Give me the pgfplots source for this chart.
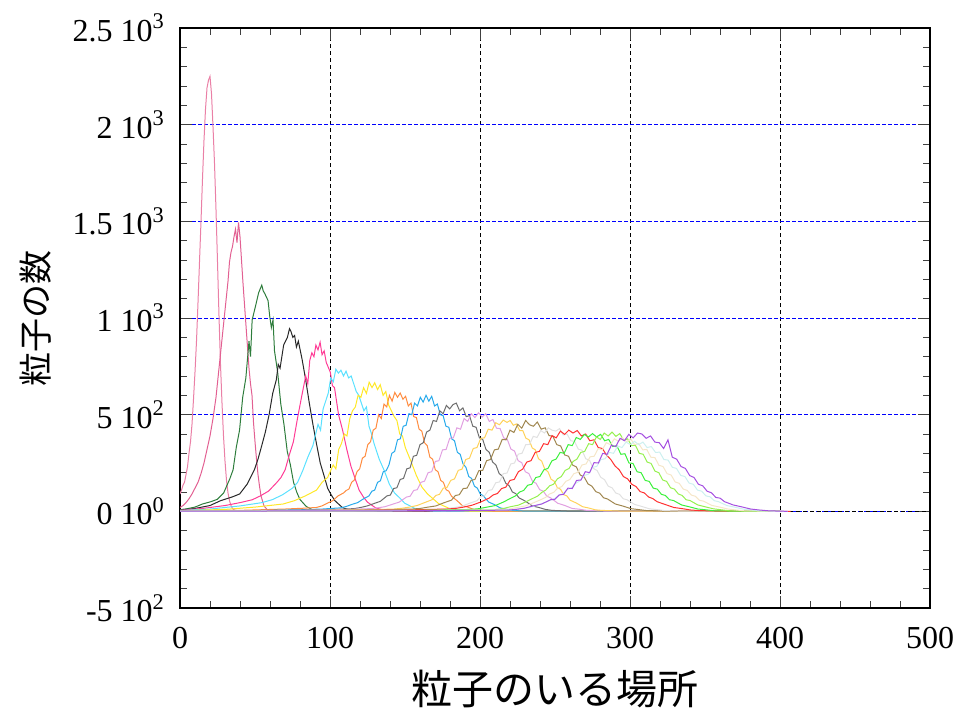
\documentclass[border=0pt]{standalone}
\usepackage{fontspec}
\setmainfont{Liberation Serif}
\newfontfamily\jp{Noto Sans CJK JP}
\usepackage{pgfplots}
\pgfplotsset{compat=1.18}
\definecolor{c1}{RGB}{234,128,166}
\definecolor{c2}{RGB}{226,96,146}
\definecolor{c3}{RGB}{46,125,60}
\definecolor{c4}{RGB}{40,40,40}
\definecolor{c5}{RGB}{255,60,150}
\definecolor{c6}{RGB}{90,225,255}
\definecolor{c7}{RGB}{255,232,40}
\definecolor{c8}{RGB}{255,140,64}
\definecolor{c9}{RGB}{40,170,235}
\definecolor{c10}{RGB}{110,110,110}
\definecolor{c11}{RGB}{225,160,225}
\definecolor{c12}{RGB}{255,210,90}
\definecolor{c13}{RGB}{160,135,80}
\definecolor{c14}{RGB}{225,225,225}
\definecolor{c15}{RGB}{255,50,50}
\definecolor{c16}{RGB}{60,240,60}
\definecolor{c17}{RGB}{150,240,80}
\definecolor{c18}{RGB}{245,230,200}
\definecolor{c19}{RGB}{205,240,240}
\definecolor{c20}{RGB}{165,80,225}
\begin{document}
\begin{tikzpicture}
\path[use as bounding box] (0,0) rectangle (478pt,354pt);
\begin{axis}[
  at={(90pt,50pt)}, anchor=south west,
  scale only axis, width=375pt, height=290pt,
  xmin=0, xmax=500, ymin=-500, ymax=2500,
  xtick={0,100,200,300,400,500},
  xticklabels={0,100,200,300,400,500},
  ytick={-500,0,500,1000,1500,2000,2500},
  yticklabels={-5 10\textsuperscript{2},0 10\textsuperscript{0},5 10\textsuperscript{2},1 10\textsuperscript{3},1.5 10\textsuperscript{3},2 10\textsuperscript{3},2.5 10\textsuperscript{3}},
  minor x tick num=4, minor y tick num=4,
  tick align=inside, major tick length=6pt, minor tick length=3.5pt,
  tick style={black!75, line width=0.5pt},
  xmajorgrids, ymajorgrids,
  major x grid style={black, dash pattern=on 2pt off 1.5pt, line width=0.4pt},
  major y grid style={blue, dash pattern=on 2pt off 1pt, line width=0.5pt},
  axis line style={black, line width=0.6pt},
  ticklabel style={font=\fontsize{16}{18}\selectfont},
  xticklabel style={yshift=-6pt},
  yticklabel style={xshift=-4pt},
  xlabel={\jp 粒子のいる場所},
  xlabel style={font=\fontsize{20.5}{24}\selectfont, at={(axis description cs:0.5,-0.14)}, anchor=center},
  ylabel={\jp 粒子の数},
  ylabel style={font=\fontsize{17}{20}\selectfont, at={(axis description cs:-0.193,0.5)}, anchor=center},
  every axis plot/.append style={line width=0.5pt},
]
\addplot[black, dash pattern=on 2pt off 1.5pt, line width=0.4pt] coordinates {(0,0)(500,0)};
% 1
\addplot[c1] coordinates {(0,90)(1,110)(2,135)(3,150)(4,190)(5,230)(6,300)(7,360)(8,450)(9,580)(10,720)(11,880)(12,1080)(13,1290)(14,1500)(15,1720)(16,1920)(17,2080)(18,2190)(19,2230)(20,2250)(21,2160)(22,1990)(23,1800)(24,1560)(25,1290)(26,1010)(27,760)(28,560)(29,390)(30,260)(31,160)(32,95)(33,55)(34,30)(35,15)(36,8)(38,3)(40,1)(60,0)(400,0)};
% 2
\addplot[c2] coordinates {(0,20)(2,30)(4,45)(6,65)(8,90)(10,120)(12,150)(14,195)(16,250)(18,320)(20,390)(22,480)(24,590)(26,740)(28,890)(30,1040)(32,1190)(33,1290)(34,1340)(35,1370)(36,1420)(37,1460)(38,1390)(39,1495)(40,1420)(41,1300)(42,1180)(43,1070)(44,960)(45,850)(46,740)(47,660)(48,600)(49,460)(50,360)(51,270)(52,190)(53,130)(54,80)(56,28)(58,10)(60,3)(65,1)(400,0)};
% 3
\addplot[c3] coordinates {(0,8)(5,14)(10,22)(15,38)(20.6,50)(24.8,62)(29.1,95)(33.3,170)(35.4,215)(37.5,330)(39.7,420)(41.8,590)(43.9,690)(46.0,880)(47.0,800)(48.1,990)(50.3,1060)(52.4,1130)(54.5,1170)(55.5,1140)(56.6,1125)(58.7,1090)(59.8,1010)(60.9,950)(62.0,990)(63.0,830)(65.1,720)(67.2,555)(69.3,450)(71.5,310)(73.6,240)(75.7,150)(77.8,100)(79.9,62)(84.2,25)(88.4,8)(95,2)(400,0)};
% 4
\addplot[c4] coordinates {(0,5)(10,15)(20,30)(27,55)(35.0,75)(39.8,90)(44.7,140)(49.6,215)(52.0,270)(54.5,340)(56.9,410)(59.4,500)(61.8,610)(64.2,680)(65.5,760)(66.7,740)(69.1,860)(71.6,900)(73.0,945)(74,930)(75.2,900)(76.4,910)(77.6,850)(78.9,880)(81.3,790)(83.8,680)(86.2,560)(88.6,450)(91.1,345)(93.5,250)(96.0,185)(98.4,120)(100.8,85)(103.3,55)(108.2,20)(113.0,6)(120,2)(400,0)};
% 5
\addplot[c5] coordinates {(0,5)(15,15)(30,30)(40,45)(48.2,60)(53.6,80)(59.1,105)(64.6,150)(67.3,175)(70.1,215)(72.8,290)(75.6,360)(78.3,480)(81.0,590)(83.8,700)(85.2,660)(86.5,780)(87.9,820)(89.3,800)(90.6,860)(92,835)(93.4,875)(94.7,810)(96.1,830)(97.5,770)(100.2,720)(101.6,650)(103.0,640)(105.7,500)(108.4,420)(111.2,320)(113.9,235)(116.7,170)(119.4,110)(122.2,75)(124.9,48)(130.4,18)(135.8,6)(145,2)(400,0)};
% 6
\addplot[c6] coordinates {(0,4)(20,12)(40,28)(54.6,45)(61.4,60)(68.2,85)(75.0,120)(78.4,150)(81.8,210)(85.2,280)(88.6,340)(92.0,450)(93.7,420)(95.4,530)(97.1,570)(98.8,610)(100.5,690)(102.2,670)(103.9,735)(105.6,715)(107.3,730)(109,700)(110.7,725)(112.4,690)(114.1,700)(115.8,660)(117.5,620)(119.2,600)(122.6,520)(124.3,540)(126,440)(127.7,400)(129.4,350)(132.8,270)(136.2,210)(139.6,140)(143,95)(146.4,70)(149.8,42)(156.6,15)(163.4,5)(170,1)(400,0)};
% 7
\addplot[c7] coordinates {(0,3)(30,10)(50,22)(68.8,38)(76.2,55)(83.6,80)(91.0,110)(94.7,150)(98.4,175)(102.1,240)(103.9,220)(105.8,320)(107.6,350)(109.5,400)(111.3,390)(113.2,480)(115.0,520)(116.9,540)(118.7,600)(120.6,590)(122.4,640)(124.3,610)(126.1,668)(128,640)(129.8,665)(131.7,630)(133.5,655)(135.4,600)(137.2,620)(139.1,550)(140.9,520)(142.8,490)(144.6,470)(146.5,400)(148.3,390)(150.2,330)(153.9,260)(157.6,185)(161.3,125)(165,90)(168.7,65)(172.4,40)(179.8,14)(187.2,4)(195,1)(400,0)};
% 8
\addplot[c8] coordinates {(0,2)(40,5)(70,12)(82,16)(91,20)(94.6,28)(98.2,42)(101.8,55)(105.4,80)(109,95)(110.8,108)(112.6,115)(114.4,150)(116.2,162)(118,205)(119.8,220)(121.6,275)(123.4,285)(125.2,345)(127,360)(128.8,420)(130.6,430)(132.4,500)(134.2,480)(136,555)(137.8,540)(139.6,600)(141.4,570)(143.2,615)(145,590)(146.8,612)(148.6,580)(150.4,595)(152.2,545)(154,560)(155.8,490)(157.6,485)(159.4,425)(161.2,415)(163,355)(164.8,340)(166.6,280)(168.4,270)(170.2,215)(172,205)(173.8,160)(175.6,150)(177.4,112)(179.2,104)(181,78)(184.6,56)(188.2,30)(191.8,22)(195.4,11)(199,6)(210,1)(400,0)};
% 9
\addplot[c9] coordinates {(0,1)(50,4)(80,8)(95,12)(107,18)(110.8,25)(114.6,36)(118.4,45)(122.2,64)(126,80)(127.9,104)(129.8,110)(131.7,150)(133.6,158)(135.5,205)(137.4,210)(139.3,240)(141.2,300)(143.1,310)(145,370)(146.9,375)(148.8,440)(150.7,445)(152.6,505)(154.5,500)(156.4,560)(158.3,545)(160.2,590)(162.1,565)(164,600)(165.9,570)(167.8,595)(169.7,545)(171.6,555)(173.5,500)(175.4,495)(177.3,440)(179.2,435)(181.1,375)(183,365)(184.9,305)(186.8,295)(188.7,245)(190.6,228)(192.5,180)(194.4,170)(196.3,130)(198.2,120)(200.1,90)(202,82)(205.8,48)(209.6,35)(213.4,18)(217.2,12)(221,5)(230,1)(400,0)};
% 10
\addplot[c10] coordinates {(0,1)(60,4)(100,9)(116,14)(120.4,20)(124.8,28)(129.2,40)(133.6,52)(138,80)(140.2,84)(142.4,118)(144.6,122)(146.8,165)(149,170)(151.2,220)(153.4,225)(155.6,285)(157.8,290)(160,345)(162.2,355)(164.4,410)(166.6,420)(168.8,470)(171,465)(173.2,520)(175.4,505)(177.6,548)(179.8,530)(182,552)(184.2,560)(186.4,520)(188.6,535)(190.8,490)(193,495)(195.2,440)(197.4,435)(199.6,380)(201.8,372)(204,320)(206.2,305)(208.4,255)(210.6,240)(212.8,195)(215,182)(217.2,145)(219.4,133)(221.6,100)(223.8,92)(226,70)(230.4,52)(234.8,28)(239.2,20)(243.6,10)(248,5)(260,1)(400,0)};
% 11
\addplot[c11] coordinates {(0,1)(70,4)(110,9)(127,14)(131.8,18)(136.6,24)(141.4,36)(146.2,48)(151,74)(153.4,78)(155.8,108)(158.2,112)(160.6,150)(163,156)(165.4,200)(167.8,205)(170.2,258)(172.6,262)(175,318)(177.4,320)(179.8,378)(182.2,380)(184.6,432)(187,425)(189.4,480)(191.8,465)(194.2,505)(196.6,485)(199,510)(201.4,488)(203.8,505)(206.2,465)(208.6,475)(211,430)(213.4,428)(215.8,380)(218.2,372)(220.6,322)(223,312)(225.4,262)(227.8,252)(230.2,205)(232.6,195)(235,155)(237.4,145)(239.8,112)(242.2,104)(244.6,78)(247,70)(251.8,42)(256.6,30)(261.4,15)(266.2,11)(271,5)(285,1)(400,0)};
% 12
\addplot[c12] coordinates {(0,1)(80,4)(125,8)(143,12)(148,16)(153,22)(158,30)(163,45)(168,60)(170.5,82)(173,88)(175.5,120)(178,124)(180.5,160)(183,168)(185.5,212)(188,218)(190.5,268)(193,275)(195.5,325)(198,330)(200.5,378)(203,380)(205.5,425)(208,420)(210.5,458)(213,448)(215.5,472)(218,460)(220.1,470)(222.2,445)(224.3,452)(226.4,418)(228.5,418)(230.6,378)(232.7,370)(234.8,328)(236.9,318)(239,272)(241.1,260)(243.2,218)(245.3,205)(247.4,166)(249.5,156)(251.6,122)(253.7,114)(255.8,86)(257.9,80)(260,58)(264.2,43)(268.4,24)(272.6,17)(276.8,8)(281,5)(295,1)(400,0)};
% 13
\addplot[c13] coordinates {(0,1)(90,4)(135,8)(155,12)(160.2,15)(165.4,22)(170.6,28)(175.8,44)(181,58)(183.6,82)(186.2,86)(188.8,118)(191.4,120)(194,160)(196.6,165)(199.2,210)(201.8,212)(204.4,262)(207,268)(209.6,318)(212.2,322)(214.8,372)(217.4,370)(220,420)(222.6,408)(225.2,450)(227.8,430)(230.4,470)(233,448)(235.6,440)(238.2,462)(240.8,425)(243.4,432)(246,392)(248.6,388)(251.2,345)(253.8,338)(256.4,292)(259,285)(261.6,240)(264.2,230)(266.8,188)(269.4,178)(272,142)(274.6,130)(277.2,102)(279.8,94)(282.4,70)(285,64)(290.2,38)(295.4,27)(300.6,14)(305.8,9)(311,4)(325,1)(400,0)};
% 14
\addplot[c14] coordinates {(0,1)(100,3)(150,7)(173,10)(178,14)(183,20)(188,26)(193,42)(198,55)(200.5,76)(203,80)(205.5,108)(208,112)(210.5,148)(213,152)(215.5,195)(218,198)(220.5,245)(223,250)(225.5,296)(228,300)(230.5,345)(233,346)(235.5,388)(238,382)(240.5,418)(243,405)(245.5,432)(248,420)(250.5,415)(253,428)(255.5,395)(258,400)(260.5,365)(263,362)(265.5,322)(268,316)(270.5,272)(273,264)(275.5,222)(278,212)(280.5,176)(283,164)(285.5,130)(288,122)(290.5,95)(293,88)(295.5,65)(298,60)(303,36)(308,25)(313,13)(318,9)(323,4)(335,1)(400,0)};
% 15
\addplot[c15] coordinates {(0,1)(100,3)(150,7)(178,12)(183.6,15)(189.2,22)(194.8,32)(200.4,48)(206,68)(208.8,85)(211.6,92)(214.4,118)(217.2,125)(220,160)(222.8,165)(225.6,205)(228.4,218)(231.2,255)(234,262)(236.8,305)(239.6,310)(242.4,350)(245.2,345)(248,392)(250.8,380)(253.6,415)(256.4,398)(259.2,420)(262,405)(264.8,418)(267.6,390)(270.4,400)(273.2,365)(276,370)(278.8,330)(281.6,325)(284.4,290)(287.2,268)(290,235)(292.8,215)(295.6,180)(298.4,168)(301.2,140)(304,128)(306.8,102)(309.6,95)(312.4,74)(315.2,66)(318,50)(323.6,35)(329.2,20)(334.8,14)(340.4,7)(346,4)(360,1)(407,0)};
% 16
\addplot[c16] coordinates {(0,1)(120,3)(170,6)(194,10)(199.4,14)(204.8,22)(210.2,30)(215.6,48)(221,70)(223.7,80)(226.4,100)(229.1,108)(231.8,135)(234.5,140)(237.2,175)(239.9,180)(242.6,215)(245.3,222)(248,262)(250.7,270)(253.4,305)(256.1,300)(258.8,345)(261.5,340)(264.2,382)(266.9,372)(269.6,398)(272.3,385)(275,402)(277.7,385)(280.4,398)(283.1,365)(285.8,372)(288.5,335)(291.2,340)(293.9,295)(296.6,298)(299.3,250)(302,248)(304.7,205)(307.4,200)(310.1,160)(312.8,155)(315.5,120)(318.2,115)(320.9,88)(323.6,82)(326.3,60)(329,56)(334.4,33)(339.8,23)(345.2,12)(350.6,8)(356,3)(370,1)(400,0)};
% 17
\addplot[c17] coordinates {(0,1)(130,3)(185,6)(210,9)(215.2,14)(220.4,24)(225.6,32)(230.8,50)(236,70)(238.6,80)(241.2,98)(243.8,110)(246.4,132)(249,140)(251.6,168)(254.2,180)(256.8,212)(259.4,222)(262,258)(264.6,270)(267.2,305)(269.8,310)(272.4,350)(275,345)(277.6,385)(280.2,372)(282.8,405)(285.4,390)(288,410)(290.6,388)(293.2,402)(295.8,368)(298.4,375)(301,340)(303.6,342)(306.2,300)(308.8,295)(311.4,255)(314,248)(316.6,208)(319.2,200)(321.8,162)(324.4,155)(327,122)(329.6,115)(332.2,90)(334.8,82)(337.4,60)(340,56)(345.2,33)(350.4,23)(355.6,13)(360.8,8)(366,3)(380,1)(400,0)};
% 18
\addplot[c18] coordinates {(0,1)(140,3)(190,6)(214,8)(219.4,12)(224.8,20)(230.2,28)(235.6,44)(241,62)(243.7,72)(246.4,90)(249.1,98)(251.8,120)(254.5,128)(257.2,155)(259.9,165)(262.6,195)(265.3,202)(268,240)(270.7,245)(273.4,282)(276.1,285)(278.8,325)(281.5,318)(284.2,355)(286.9,345)(289.6,375)(292.3,362)(295,380)(297.7,360)(300.4,375)(303.1,345)(305.8,350)(308.5,318)(311.2,320)(313.9,280)(316.6,278)(319.3,238)(322,232)(324.7,195)(327.4,188)(330.1,152)(332.8,145)(335.5,115)(338.2,108)(340.9,84)(343.6,78)(346.3,57)(349,53)(354.4,31)(359.8,22)(365.2,12)(370.6,7)(376,3)(390,1)(400,0)};
% 19
\addplot[c19] coordinates {(0,1)(140,3)(195,5)(219,7)(224.6,10)(230.2,18)(235.8,26)(241.4,40)(247,58)(249.8,66)(252.6,82)(255.4,92)(258.2,112)(261,122)(263.8,145)(266.6,158)(269.4,185)(272.2,192)(275,228)(277.8,232)(280.6,268)(283.4,272)(286.2,305)(289,300)(291.8,338)(294.6,330)(297.4,358)(300.2,345)(303,362)(305.8,345)(308.6,358)(311.4,330)(314.2,335)(317,305)(319.8,306)(322.6,268)(325.4,265)(328.2,228)(331,222)(333.8,186)(336.6,180)(339.4,146)(342.2,140)(345,110)(347.8,104)(350.6,80)(353.4,75)(356.2,55)(359,50)(364.6,30)(370.2,21)(375.8,11)(381.4,7)(387,3)(398,1)(405,0)};
% 20
\addplot[c20] coordinates {(0,1)(150,3)(195,5)(218,6)(223.8,10)(229.6,16)(235.4,28)(241.2,38)(247,60)(249.9,62)(252.8,85)(255.7,88)(258.6,120)(261.5,118)(264.4,160)(267.3,162)(270.2,205)(273.1,200)(276,252)(278.9,250)(281.8,300)(284.7,295)(287.6,342)(290.5,335)(293.4,378)(296.3,365)(299.2,398)(302.1,380)(305,405)(307.9,400)(310.8,378)(313.7,390)(316.6,358)(319.5,355)(322.4,325)(325.3,370)(328.2,280)(331.1,270)(334,232)(336.9,222)(339.8,185)(342.7,175)(345.6,140)(348.5,132)(351.4,104)(354.3,96)(357.2,72)(360.1,68)(363,50)(368.8,33)(374.6,23)(380.4,12)(386.2,7)(392,3)(400,1)(405,0)};
\end{axis}
\end{tikzpicture}
\end{document}
